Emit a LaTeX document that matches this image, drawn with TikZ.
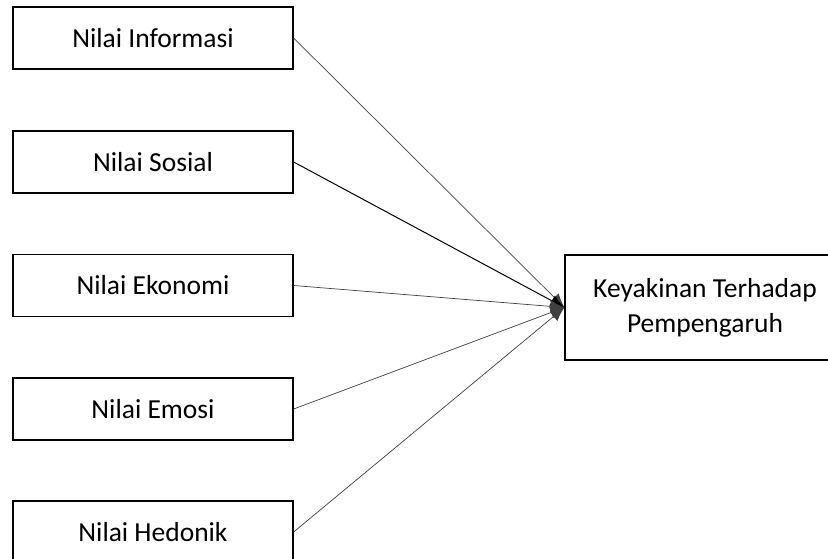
\documentclass[tikz,border=0pt]{standalone}
\usepackage{fontspec}
\setmainfont{Carlito}
\usetikzlibrary{arrows.meta}

\begin{document}
\begin{tikzpicture}[x=1pt,y=-1pt,
    nilai/.style={draw,line width=1.3pt,minimum width=280pt,minimum height=62pt,inner sep=0pt,
      font=\fontsize{27.5}{35}\selectfont},
    hasil/.style={nilai,minimum height=105pt,align=center},
    panah/.style={-{Latex[length=14pt,width=12pt]},line width=0.7pt,color=black!75}]

  \clip (0,0) rectangle (828,558);

  \node[nilai] (info) at (153,38) {Nilai Informasi};
  \node[nilai] (sosial) at (153,162) {Nilai Sosial};
  \node[nilai] (ekonomi) at (153,285.5) {Nilai Ekonomi};
  \node[nilai] (emosi) at (153,409) {Nilai Emosi};
  \node[nilai] (hedonik) at (153,532) {Nilai Hedonik};

  \node[hasil] (yakin) at (705,307.5) {Keyakinan Terhadap\\Pempengaruh};

  \draw[panah] (info.east) -- (yakin.west);
  \draw[panah,line width=1pt,color=black] (sosial.east) -- (yakin.west);
  \draw[panah] (ekonomi.east) -- (yakin.west);
  \draw[panah] (emosi.east) -- (yakin.west);
  \draw[panah] (hedonik.east) -- (yakin.west);

\end{tikzpicture}
\end{document}
